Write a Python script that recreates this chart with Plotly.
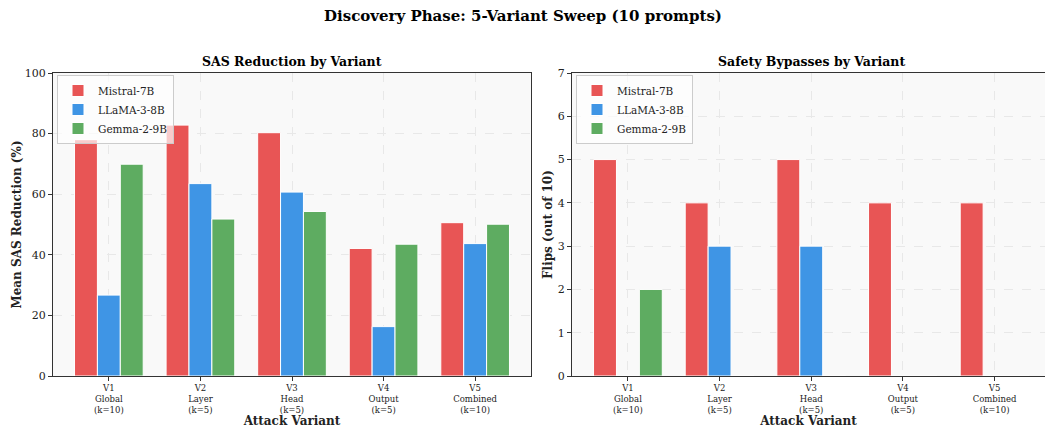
import plotly.graph_objects as go

variants = ["V1<br>Global<br>(k=10)", "V2<br>Layer<br>(k=5)", "V3<br>Head<br>(k=5)",
            "V4<br>Output<br>(k=5)", "V5<br>Combined<br>(k=10)"]
models = ["Mistral-7B", "LLaMA-3-8B", "Gemma-2-9B"]
colors = ["#e85555", "#3f95e5", "#5eac61"]

sas_mistral = [78.0, 82.8, 80.3, 42.1, 50.6]
sas_llama = [26.7, 63.5, 60.7, 16.3, 43.7]
sas_gemma = [69.9, 51.8, 54.3, 43.5, 50.1]

flips_mistral = [5, 4, 5, 4, 4]
flips_llama = [0, 3, 3, 0, 0]
flips_gemma = [2, 0, 0, 0, 0]

sas = [sas_mistral, sas_llama, sas_gemma]
flips = [flips_mistral, flips_llama, flips_gemma]
xpos = list(range(len(variants)))

FONT = "DejaVu Serif"
W, H = 1045, 428

fig = go.Figure()
for i, m in enumerate(models):
    fig.add_trace(go.Bar(x=xpos, y=sas[i], name=m, marker=dict(color=colors[i], line=dict(color="white", width=1)),
                         xaxis="x", yaxis="y", legend="legend", offsetgroup=str(i)))
for i, m in enumerate(models):
    fig.add_trace(go.Bar(x=xpos, y=flips[i], name=m, marker=dict(color=colors[i], line=dict(color="white", width=1)),
                         xaxis="x2", yaxis="y2", legend="legend2", offsetgroup=str(i)))

def px_x(p):
    return p / W

def px_y(p):
    return 1 - p / H

ydom = [px_y(376), px_y(73)]
axis_common = dict(
    showline=True, linecolor="#333333", linewidth=1.2, mirror=True,
    ticks="outside", ticklen=4, tickcolor="#333333",
    showgrid=True, gridcolor="#e8e8e8", griddash="dash", gridwidth=1,
    zeroline=False, automargin=False,
)

legend_style = dict(xanchor="left", yanchor="top",
                    bgcolor="rgba(255,255,255,0.7)", bordercolor="#cccccc", borderwidth=1,
                    font=dict(size=10.5, family=FONT), tracegroupgap=0, itemwidth=30)

fig.update_layout(
    width=W, height=H,
    margin=dict(l=0, r=0, t=0, b=0),
    paper_bgcolor="white", plot_bgcolor="#f9f9f9",
    font=dict(family=FONT, size=11, color="#222222"),
    barmode="group", bargap=0.25, bargroupgap=0,
    showlegend=True,
    xaxis=dict(domain=[px_x(53), px_x(531)], range=[-0.61, 4.61], tickvals=xpos, ticktext=variants,
               tickfont=dict(size=8.5), title=dict(text="<b>Attack Variant</b>", font=dict(size=12), standoff=4),
               anchor="y", **axis_common),
    yaxis=dict(domain=ydom, range=[0, 100], dtick=20, tickfont=dict(size=11),
               title=dict(text="<b>Mean SAS Reduction (%)</b>", font=dict(size=12), standoff=0),
               anchor="x", **axis_common),
    xaxis2=dict(domain=[px_x(572), 1.0], range=[-0.61, 4.55], tickvals=xpos, ticktext=variants,
                tickfont=dict(size=8.5), title=dict(text="<b>Attack Variant</b>", font=dict(size=12), standoff=4),
                anchor="y2", **axis_common),
    yaxis2=dict(domain=ydom, range=[0, 7], dtick=1, tickfont=dict(size=11),
                title=dict(text="<b>Flips (out of 10)</b>", font=dict(size=12), standoff=2),
                anchor="x2", **axis_common),
    legend=dict(x=px_x(57), y=px_y(75), **legend_style),
    legend2=dict(x=px_x(576), y=px_y(75), **legend_style),
    annotations=[
        dict(text="<b>Discovery Phase: 5-Variant Sweep (10 prompts)</b>", x=0.5, y=px_y(16),
             xref="paper", yref="paper", showarrow=False, font=dict(size=15, family=FONT, color="black"),
             xanchor="center", yanchor="middle"),
        dict(text="<b>SAS Reduction by Variant</b>", x=(px_x(53) + px_x(531)) / 2, y=px_y(62),
             xref="paper", yref="paper", showarrow=False, font=dict(size=12.5, family=FONT, color="black"),
             xanchor="center", yanchor="middle"),
        dict(text="<b>Safety Bypasses by Variant</b>", x=(px_x(572) + px_x(1045 + 5)) / 2, y=px_y(62),
             xref="paper", yref="paper", showarrow=False, font=dict(size=12.5, family=FONT, color="black"),
             xanchor="center", yanchor="middle"),
    ],
)

fig.write_html("out.html")
